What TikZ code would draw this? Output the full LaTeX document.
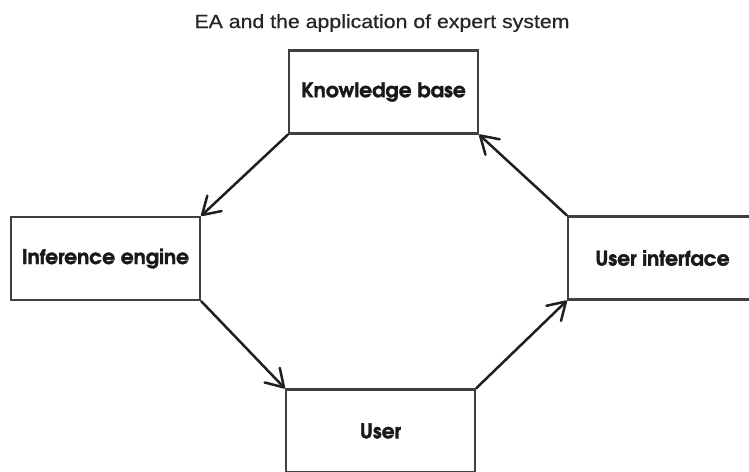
\documentclass[tikz,border=0pt]{standalone}
\usepackage{fontspec}
\setmainfont{Liberation Sans}
\newfontfamily\titlefont{Liberation Sans}[FakeStretch=1.12,FakeBold=0.6]
\newfontfamily\boxfont{TeX Gyre Adventor}[BoldFeatures={FakeBold=1.6}]
\usetikzlibrary{arrows.meta}
\begin{document}
\begin{tikzpicture}[x=1pt,y=-1pt,
  box/.style={draw=black!75, line width=2.3pt, minimum width=189pt, minimum height=83pt,
    inner sep=0pt, font=\boxfont\bfseries\fontsize{20.2}{24}\selectfont, text=black!90},
  link/.style={draw=black!88, line width=2.5pt, line cap=round,
    -{Straight Barb[length=17pt,width=21pt,line cap=round,line join=round]}},
  ttl/.style={font=\titlefont\fontsize{19}{22}\selectfont, text=black!85, inner sep=0pt, anchor=base}]
\useasboundingbox (0,0) rectangle (749,471);
\fill[white] (0,0) rectangle (749,471);
\node[ttl] (title) at (382,28) {EA and the application of expert system};
\node[box] (kb) at (383.5,92) {Knowledge base};
\node[box] (ie) at (105.5,258.5) {Inference engine};
\node[box] (ui) at (662.5,258) {User interface};
\node[box] (user) at (380.5,431) {User};
\draw[link] (kb.south west) -- (ie.north east);
\draw[link] (ie.south east) -- (user.north west);
\draw[link] (user.north east) -- (ui.south west);
\draw[link] (ui.north west) -- (kb.south east);
\end{tikzpicture}
\end{document}
